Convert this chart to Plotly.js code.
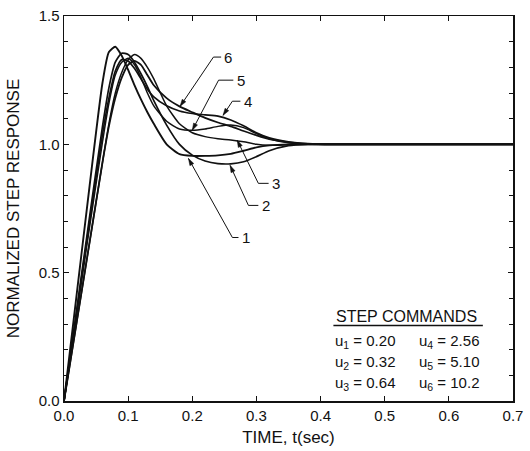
<!DOCTYPE html>
<html>
<head>
<meta charset="utf-8">
<script src="https://cdn.plot.ly/plotly-3.0.1.min.js"></script>
<style>html,body{margin:0;padding:0;background:#fff;}#chart{width:530px;height:451px;}</style>
</head>
<body>
<div id="chart"></div>
<script>
// Time samples (sec)
var timeSec = [0, 0.02, 0.04, 0.06, 0.07, 0.08, 0.09, 0.10, 0.11, 0.12, 0.13, 0.14, 0.16, 0.18, 0.20, 0.22, 0.24, 0.26, 0.28, 0.30, 0.32, 0.35, 0.38, 0.42, 0.50, 0.60, 0.70];
// Normalized step responses
var resp1 = [0, 0.42, 0.84, 1.24, 1.36, 1.38, 1.345, 1.29, 1.23, 1.175, 1.125, 1.08, 1.0, 0.962, 0.955, 0.955, 0.957, 0.963, 0.975, 0.988, 0.996, 1.0, 1.0, 1.0, 1.0, 1.0, 1.0];
var resp2 = [0, 0.36, 0.72, 1.07, 1.22, 1.32, 1.355, 1.35, 1.32, 1.275, 1.225, 1.17, 1.075, 1.0, 0.958, 0.935, 0.925, 0.924, 0.932, 0.952, 0.975, 0.995, 1.0, 1.0, 1.0, 1.0, 1.0];
var resp3 = [0, 0.31, 0.62, 0.93, 1.08, 1.20, 1.28, 1.33, 1.35, 1.335, 1.30, 1.255, 1.15, 1.08, 1.045, 1.03, 1.022, 1.017, 1.01, 1.0, 0.996, 0.998, 1.0, 1.0, 1.0, 1.0, 1.0];
var resp4 = [0, 0.35, 0.70, 1.04, 1.18, 1.285, 1.33, 1.325, 1.295, 1.255, 1.215, 1.185, 1.15, 1.13, 1.12, 1.115, 1.11, 1.095, 1.072, 1.045, 1.025, 1.01, 1.003, 1.0, 1.0, 1.0, 1.0];
var resp5 = [0, 0.34, 0.68, 1.01, 1.16, 1.27, 1.32, 1.335, 1.31, 1.26, 1.2, 1.15, 1.09, 1.06, 1.055, 1.06, 1.07, 1.075, 1.065, 1.042, 1.022, 1.006, 1.0, 1.0, 1.0, 1.0, 1.0];
var resp6 = [0, 0.31, 0.62, 0.93, 1.07, 1.18, 1.26, 1.31, 1.325, 1.31, 1.27, 1.23, 1.18, 1.148, 1.125, 1.103, 1.085, 1.07, 1.052, 1.035, 1.02, 1.008, 1.002, 1.0, 1.0, 1.0, 1.0];

var curveLabels = ['1', '2', '3', '4', '5', '6'];
// Leader lines: tip (t, v), elbow (t, v), end of the short horizontal piece (t)
var leaderTipT = [0.194, 0.259, 0.270, 0.248, 0.200, 0.181];
var leaderTipV = [0.945, 0.918, 1.016, 1.113, 1.055, 1.148];
var leaderElbowT = [0.2625, 0.2875, 0.303, 0.2625, 0.241, 0.233];
var leaderElbowV = [0.637, 0.762, 0.848, 1.168, 1.25, 1.34];
var leaderEndT = [0.272, 0.303, 0.319, 0.275, 0.264, 0.245];

// Step commands legend
var cmdNames = ['u<sub>1</sub>', 'u<sub>2</sub>', 'u<sub>3</sub>', 'u<sub>4</sub>', 'u<sub>5</sub>', 'u<sub>6</sub>'];
var cmdValues = ['0.20', '0.32', '0.64', '2.56', '5.10', '10.2'];

var xTickVals = [0, 0.1, 0.2, 0.3, 0.4, 0.5, 0.6, 0.7];
var xTickText = ['0.0', '0.1', '0.2', '0.3', '0.4', '0.5', '0.6', '0.7'];
var yTickVals = [0, 0.5, 1.0, 1.5];
var yTickText = ['0.0', '0.5', '1.0', '1.5'];

var X_RANGE = [0, 0.7], Y_RANGE = [0, 1.5];
var MARGIN = {l: 64, r: 17, t: 16, b: 50};
var W = 530, H = 451;
var pxPerT = (W - MARGIN.l - MARGIN.r) / (X_RANGE[1] - X_RANGE[0]);
var pxPerV = (H - MARGIN.t - MARGIN.b) / (Y_RANGE[1] - Y_RANGE[0]);

var series = [resp1, resp2, resp3, resp4, resp5, resp6];
var widths = [1.9, 1.7, 1.5, 1.7, 1.5, 1.8];
var traces = series.map(function (s, i) {
  return {
    x: timeSec, y: s, type: 'scatter', mode: 'lines',
    line: {color: '#111', width: widths[i], shape: 'spline', smoothing: 0.6},
    hoverinfo: 'skip', showlegend: false
  };
});

var FONT = 'Liberation Sans, Arial, Helvetica, sans-serif';
var annotations = [];
var shapes = [];
for (var i = 0; i < 6; i++) {
  // leader polyline: tip -> elbow -> end
  shapes.push({
    type: 'path', xref: 'x', yref: 'y',
    path: 'M' + leaderTipT[i] + ',' + leaderTipV[i] + ' L' + leaderElbowT[i] + ',' + leaderElbowV[i] +
          ' L' + leaderEndT[i] + ',' + leaderElbowV[i],
    line: {color: '#111', width: 1}
  });
  // arrowhead at the tip (built in pixel space, converted back to data units)
  var dxp = (leaderTipT[i] - leaderElbowT[i]) * pxPerT;
  var dyp = (leaderTipV[i] - leaderElbowV[i]) * pxPerV;
  var len = Math.sqrt(dxp * dxp + dyp * dyp);
  var ux = dxp / len, uy = dyp / len;
  var hl = 7, hw = 2.2;
  var bx = -ux * hl, by = -uy * hl;
  var p1x = bx - uy * hw, p1y = by + ux * hw;
  var p2x = bx + uy * hw, p2y = by - ux * hw;
  shapes.push({
    type: 'path', xref: 'x', yref: 'y',
    path: 'M' + leaderTipT[i] + ',' + leaderTipV[i] +
          ' L' + (leaderTipT[i] + p1x / pxPerT) + ',' + (leaderTipV[i] + p1y / pxPerV) +
          ' L' + (leaderTipT[i] + p2x / pxPerT) + ',' + (leaderTipV[i] + p2y / pxPerV) + ' Z',
    fillcolor: '#111', line: {color: '#111', width: 0.5}
  });
  annotations.push({
    x: leaderEndT[i] + 0.002, y: leaderElbowV[i], xref: 'x', yref: 'y',
    text: curveLabels[i], showarrow: false, xanchor: 'left', yanchor: 'middle',
    font: {family: FONT, size: 15, color: '#111'}
  });
}
// Legend header
annotations.push({
  x: 0.421, y: 0.331, xref: 'x', yref: 'y', text: 'STEP COMMANDS', showarrow: false,
  xanchor: 'left', yanchor: 'middle', font: {family: FONT, size: 16, color: '#111'}
});
shapes.push({
  type: 'line', xref: 'x', yref: 'y', x0: 0.420, x1: 0.653, y0: 0.294, y1: 0.294,
  line: {color: '#111', width: 1.5}
});
var rowV = [0.230, 0.150, 0.070];
var colT = [0.419, 0.550];
for (var k = 0; k < 6; k++) {
  var c = Math.floor(k / 3), r = k % 3;
  annotations.push({
    x: colT[c], y: rowV[r], xref: 'x', yref: 'y',
    text: cmdNames[k] + ' = ' + cmdValues[k], showarrow: false,
    xanchor: 'left', yanchor: 'middle', font: {family: FONT, size: 15, color: '#111'}
  });
}

var axisCommon = {
  showgrid: false, zeroline: false, showline: true, linecolor: '#111', linewidth: 1.5,
  mirror: 'ticks', ticks: 'inside', ticklen: 5, tickwidth: 1, tickcolor: '#111',
  tickfont: {family: FONT, size: 15, color: '#111'}
};
var layout = {
  width: W, height: H,
  margin: {l: MARGIN.l, r: MARGIN.r, t: MARGIN.t, b: MARGIN.b, pad: 0},
  paper_bgcolor: '#fff', plot_bgcolor: '#fff',
  showlegend: false,
  xaxis: Object.assign({}, axisCommon, {
    range: X_RANGE, tickmode: 'array', tickvals: xTickVals, ticktext: xTickText,
    title: {text: 'TIME, t(sec)', font: {family: FONT, size: 17, color: '#111'}, standoff: 8}
  }),
  yaxis: Object.assign({}, axisCommon, {
    range: Y_RANGE, tickmode: 'array', tickvals: yTickVals, ticktext: yTickText,
    minor: {tickvals: [0.1,0.2,0.3,0.4,0.6,0.7,0.8,0.9,1.1,1.2,1.3,1.4], ticks: 'inside', ticklen: 4, tickcolor: '#111', tickwidth: 1},
    title: {text: 'NORMALIZED STEP RESPONSE', font: {family: FONT, size: 17, color: '#111'}, standoff: 14}
  }),
  annotations: annotations,
  shapes: shapes
};
Plotly.newPlot('chart', traces, layout, {staticPlot: true, displayModeBar: false});
</script>
</body>
</html>
